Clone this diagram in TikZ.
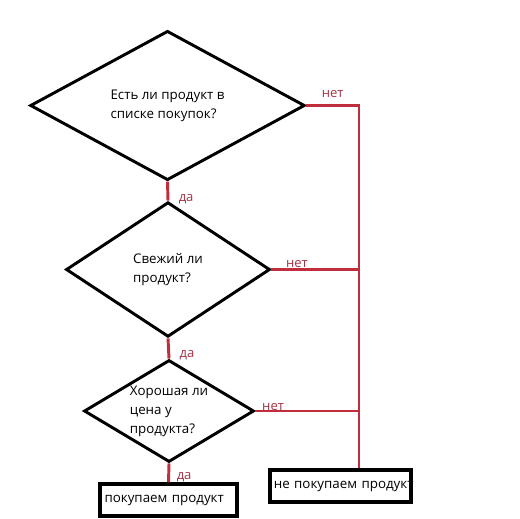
\documentclass[tikz,border=0pt]{standalone}
\usepackage{fontspec}
\setmainfont{Open Sans}
\usetikzlibrary{shapes.geometric,calc,positioning}
\definecolor{linered}{RGB}{192,45,60}
\definecolor{labelred}{RGB}{165,50,70}

\begin{document}
\begin{tikzpicture}[x=0.75pt,y=-0.75pt,
    decision/.style={draw, diamond, line width=2.2pt, inner sep=0pt, align=left, font=\fontsize{10}{14.3}\selectfont},
    action/.style={draw, rectangle, line width=2.6pt, inner sep=2pt, align=left, font=\fontsize{10}{12}\selectfont},
    branch/.style={draw=linered, line width=2.2pt},
    tag/.style={text=labelred, font=\fontsize{9.8}{10}\selectfont, inner sep=1pt}]
    \useasboundingbox (0,0) rectangle (520,518);
    \node[decision, aspect=1.85, minimum width=206pt, minimum height=112pt] (q1) at (167.5,105.5) {Есть ли продукт в\\списке покупок?};
    \node[decision, aspect=1.51, minimum width=153pt, minimum height=101pt] (q2) at (168,269.5) {Свежий ли\\продукт?};
    \node[decision, aspect=1.67, minimum width=127.5pt, minimum height=76.5pt] (q3) at (169,411) {Хорошая ли\\цена у\\продукта?};
    \node[action, minimum width=103pt, minimum height=24pt, text width=96pt] (buy) at (168.5,500) {покупаем продукт};
    \node[action, minimum width=106pt, minimum height=24pt, text width=100pt] (skip) at (340.5,486) {\mbox{не покупаем продукт}};
    \coordinate (bus) at (359,0);
    % да
    \draw[branch] (q1.south) -- (q2.north) node[tag, pos=0.9, right=6pt] {да};
    \draw[branch] (q2.south) -- (q3.north) node[tag, pos=0.85, right=6pt] {да};
    \draw[branch] (q3.south) -- (buy.north) node[tag, pos=0.75, right=4pt] {да};
    % нет
    \draw[branch] (q1.east) -- (q1.east -| bus) node[tag, midway, above=4pt] {нет} -- (bus |- skip.north);
    \draw[branch] (q2.east) -- (q2.east -| bus) node[tag, pos=0.29, above=-1pt] {нет};
    \draw[branch] (q3.east) -- (q3.east -| bus) node[tag, pos=0.17, above=-2pt] {нет};
\end{tikzpicture}
\end{document}
